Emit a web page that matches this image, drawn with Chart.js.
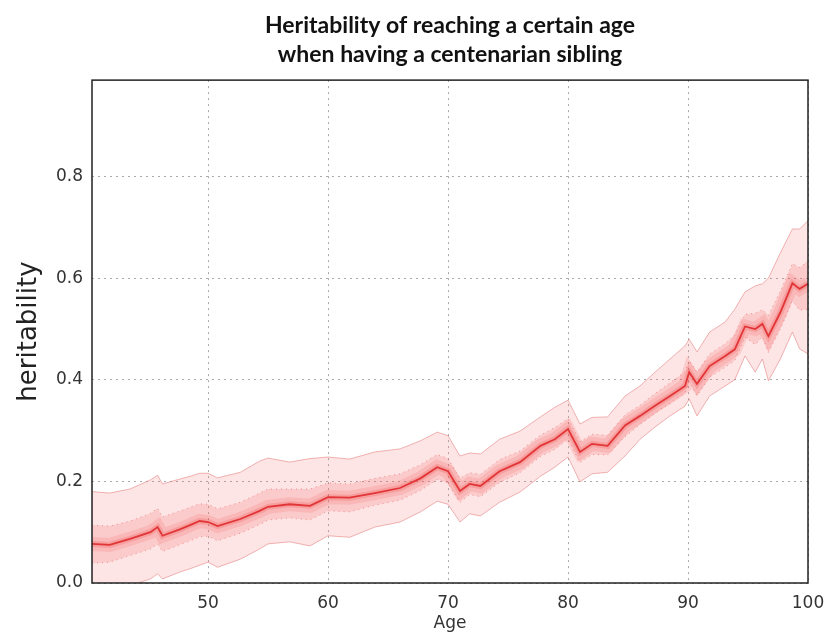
<!DOCTYPE html>
<html>
<head>
<meta charset="utf-8">
<script src="https://cdn.jsdelivr.net/npm/chart.js@4.4.1/dist/chart.umd.min.js"></script>
<style>
  html, body { margin: 0; padding: 0; background: #fff; }
  #wrap { width: 839px; height: 636px; }
</style>
</head>
<body>
<div id="wrap"><canvas id="myChart" width="839" height="636"></canvas></div>
<script>
// ages read along the x axis
const ages = [40.33, 41.8, 43.5, 45.2, 45.8, 46.2, 47.7, 48.5, 49.3, 50.0, 50.8, 52.7, 54.3, 55.0,
    56.8, 58.5, 60.0, 61.8, 63.9, 66.0, 67.7, 69.1, 70.0, 71.0, 71.8, 72.7, 74.3, 76.0, 77.7,
    78.9, 80.0, 81.0, 82.0, 83.3, 84.75, 86.0, 87.25, 88.5, 89.75, 90.1, 90.75, 91.8, 93.1,
    93.9, 94.75, 95.6, 96.2, 96.7, 97.7, 98.7, 99.3, 100];

// central estimate
const center = [0.077, 0.075, 0.087, 0.100, 0.110, 0.093, 0.106, 0.114, 0.122, 0.120, 0.112, 0.126, 0.142, 0.150,
    0.155, 0.152, 0.169, 0.168, 0.177, 0.187, 0.206, 0.228, 0.220, 0.181, 0.195, 0.191, 0.220, 0.238, 0.270,
    0.283, 0.303, 0.258, 0.274, 0.270, 0.310, 0.329, 0.349, 0.368, 0.388, 0.415, 0.392, 0.427, 0.447,
    0.460, 0.505, 0.500, 0.510, 0.486, 0.533, 0.590, 0.579, 0.589];

// outer band (solid thin edges)
const upperOuter = [0.180, 0.177, 0.185, 0.203, 0.212, 0.195, 0.205, 0.210, 0.216, 0.216, 0.207, 0.218, 0.240, 0.246,
    0.238, 0.245, 0.248, 0.244, 0.258, 0.264, 0.280, 0.297, 0.290, 0.250, 0.256, 0.254, 0.283, 0.299, 0.327,
    0.346, 0.360, 0.313, 0.326, 0.327, 0.368, 0.388, 0.415, 0.441, 0.467, 0.480, 0.455, 0.494, 0.514,
    0.539, 0.573, 0.585, 0.589, 0.600, 0.650, 0.697, 0.697, 0.713];
const lowerOuter = [-0.030, -0.020, -0.005, 0.008, 0.018, 0.008, 0.022, 0.028, 0.035, 0.041, 0.031, 0.047, 0.067, 0.077,
    0.081, 0.073, 0.093, 0.090, 0.110, 0.120, 0.140, 0.161, 0.155, 0.120, 0.136, 0.132, 0.159, 0.179, 0.210,
    0.228, 0.248, 0.199, 0.215, 0.218, 0.250, 0.283, 0.307, 0.329, 0.348, 0.362, 0.329, 0.368, 0.388,
    0.400, 0.447, 0.415, 0.441, 0.398, 0.441, 0.494, 0.461, 0.451];

// inner band (dotted edges)
const upperInner = [0.114, 0.112, 0.122, 0.137, 0.147, 0.130, 0.142, 0.149, 0.156, 0.155, 0.146, 0.159, 0.177, 0.185,
    0.185, 0.185, 0.197, 0.195, 0.206, 0.215, 0.233, 0.253, 0.245, 0.206, 0.217, 0.214, 0.243, 0.260, 0.291,
    0.306, 0.324, 0.278, 0.293, 0.291, 0.331, 0.350, 0.373, 0.394, 0.416, 0.438, 0.415, 0.451, 0.471,
    0.488, 0.529, 0.531, 0.538, 0.527, 0.575, 0.629, 0.621, 0.634];
const lowerInner = [0.039, 0.041, 0.054, 0.067, 0.077, 0.062, 0.076, 0.083, 0.091, 0.092, 0.083, 0.098, 0.115, 0.124,
    0.128, 0.124, 0.142, 0.140, 0.153, 0.163, 0.182, 0.204, 0.197, 0.159, 0.174, 0.170, 0.198, 0.217, 0.249,
    0.263, 0.283, 0.237, 0.253, 0.252, 0.288, 0.312, 0.334, 0.354, 0.374, 0.396, 0.369, 0.405, 0.425,
    0.438, 0.484, 0.469, 0.485, 0.454, 0.500, 0.555, 0.537, 0.539];

const xTicks = [50, 60, 70, 80, 90, 100];
const yTicks = [0.0, 0.2, 0.4, 0.6, 0.8];

function pts(values) {
    return ages.map((a, i) => ({ x: a, y: values[i] }));
}

Chart.defaults.font.family = "'DejaVu Sans', sans-serif";
Chart.defaults.color = '#333';

// matplotlib style frame around the plot
const frame = {
    id: 'frame',
    afterDraw(chart) {
        const { ctx, chartArea: a } = chart;
        ctx.save();
        ctx.strokeStyle = '#222';
        ctx.lineWidth = 1.5;
        ctx.strokeRect(a.left, a.top, a.right - a.left, a.bottom - a.top);
        ctx.restore();
    }
};

const ctx = document.getElementById('myChart').getContext('2d');

const chart = new Chart(ctx, {
    type: 'line',
    data: {
        datasets: [
            {
                label: 'lower outer',
                data: pts(lowerOuter),
                borderColor: 'rgba(225,120,120,0.55)',
                borderWidth: 1,
                fill: false
            },
            {
                label: 'upper outer',
                data: pts(upperOuter),
                borderColor: 'rgba(225,120,120,0.55)',
                borderWidth: 1,
                backgroundColor: 'rgba(250,110,110,0.18)',
                fill: 0
            },
            {
                label: 'lower inner',
                data: pts(lowerInner),
                borderColor: 'rgba(215,60,60,0.5)',
                borderWidth: 1,
                borderDash: [1, 4],
                fill: false
            },
            {
                label: 'upper inner',
                data: pts(upperInner),
                borderColor: 'rgba(215,60,60,0.5)',
                borderWidth: 1,
                borderDash: [1, 4],
                backgroundColor: 'rgba(240,70,70,0.17)',
                fill: 2
            },
            {
                label: 'glow',
                data: pts(center),
                borderColor: 'rgba(235,40,40,0.14)',
                borderWidth: 14,
                fill: false
            },
            {
                label: 'glow2',
                data: pts(center),
                borderColor: 'rgba(230,30,30,0.2)',
                borderWidth: 6,
                fill: false
            },
            {
                label: 'heritability',
                data: pts(center),
                borderColor: 'rgb(212,35,40)',
                borderWidth: 1.8,
                fill: false
            }
        ]
    },
    options: {
        responsive: false,
        animation: false,
        elements: { point: { radius: 0 }, line: { tension: 0 } },
        layout: { padding: { left: 0, right: 31, top: 0, bottom: 0 } },
        plugins: {
            legend: { display: false },
            tooltip: { enabled: false },
            title: {
                display: true,
                fullSize: false,
                text: ['Heritability of reaching a certain age', 'when having a centenarian sibling'],
                color: '#111',
                font: { family: 'Lato', size: 23, weight: 'bold', lineHeight: 1.22 },
                padding: { top: 12, bottom: 12 }
            }
        },
        scales: {
            x: {
                type: 'linear',
                min: 40.33,
                max: 100,
                afterBuildTicks: (scale) => { scale.ticks = xTicks.map(v => ({ value: v })); },
                afterFit: (scale) => { scale.height = 53; },
                ticks: { font: { size: 17 }, padding: 10, color: '#333' },
                grid: { color: '#aaa', borderDash: [2, 4], drawTicks: false },
                border: { display: false, dash: [2, 4] },
                title: { display: true, text: 'Age', font: { size: 17 }, color: '#333', padding: { top: 0, bottom: 2 } }
            },
            y: {
                min: 0,
                max: 0.99,
                afterBuildTicks: (scale) => { scale.ticks = yTicks.map(v => ({ value: v })); },
                afterFit: (scale) => { scale.width = 92; },
                ticks: { font: { size: 17 }, padding: 9, color: '#333', callback: (v) => v.toFixed(1) },
                grid: { color: '#aaa', drawTicks: false },
                border: { display: false, dash: [2, 4] },
                title: { display: true, text: 'heritability', font: { size: 26 }, color: '#222', padding: { top: 14, bottom: 0 } }
            }
        }
    },
    plugins: [frame]
});
</script>
</body>
</html>
